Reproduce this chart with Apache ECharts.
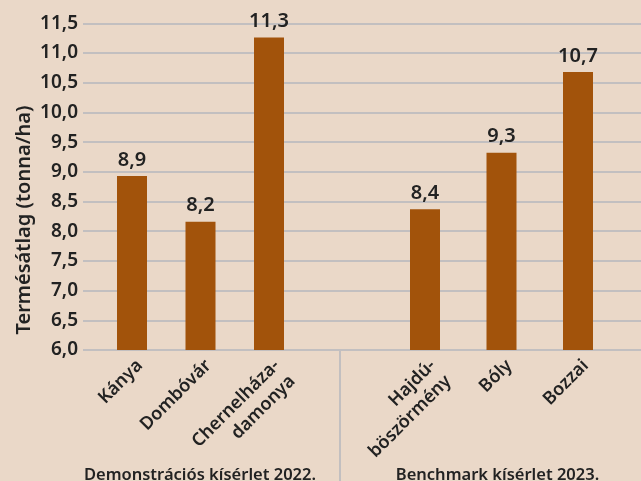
<!DOCTYPE html>
<html><head><meta charset="utf-8">
<script src="https://cdn.jsdelivr.net/npm/echarts@6/dist/echarts.min.js"></script>
<style>html,body{margin:0;padding:0;background:#ead8c8}#c{width:641px;height:481px}</style>
</head><body><div id="c"></div>
<script>
const groupNames = ['Demonstrációs kísérlet 2022.', 'Benchmark kísérlet 2023.'];
const demoSites = ['Kánya', 'Dombóvár', 'Chernelháza-\ndamonya'];
const demoYield = [8.93, 8.16, 11.26];
const benchSites = ['Hajdú-\nböszörmény', 'Bóly', 'Bozzai'];
const benchYield = [8.37, 9.32, 10.68];
const yName = 'Termésátlag (tonna/ha)';
const yMin = 6.0, yMax = 11.5, yStep = 0.5;

const FONT = '"Noto Sans", "Open Sans", sans-serif';
const W = 600;
const TXT = '#222222';
const GRIDC = '#c2bfc0';
const BAR = '#a2530b';
const fmt = v => v.toFixed(1).replace('.', ',');

const chart = echarts.init(document.getElementById('c'), null, {renderer: 'canvas'});
const gTop = 23.3, gBottom = 131;
const hiddenY = i => ({type: 'value', gridIndex: i, min: yMin, max: yMax, interval: yStep, show: false, splitLine: {show: false}});
const siteAxis = (i, data) => ({
  type: 'category', gridIndex: i, data: data,
  axisLine: {show: false}, axisTick: {show: false},
  axisLabel: {interval: 0, rotate: 45, margin: 5, align: 'right', verticalAlign: 'top', fontSize: 18, fontWeight: W, color: TXT, fontFamily: FONT, lineHeight: 22}
});
const barSeries = (i, data) => ({
  type: 'bar', xAxisIndex: i, yAxisIndex: i, data: data, barWidth: 30,
  itemStyle: {color: BAR},
  label: {show: true, position: 'top', distance: 6, formatter: p => fmt(p.value), fontSize: 20, fontWeight: W, color: TXT, fontFamily: FONT}
});
chart.setOption({
  backgroundColor: '#ead8c8',
  animation: false,
  grid: [
    {left: 83, right: 0, top: gTop, bottom: gBottom},
    {left: 97.75, width: 205.5, top: gTop, bottom: gBottom},
    {left: 386.75, width: 229.5, top: gTop, bottom: gBottom}
  ],
  xAxis: [
    {type: 'category', gridIndex: 0, data: [''], show: false},
    siteAxis(1, demoSites),
    siteAxis(2, benchSites)
  ],
  yAxis: [
    {type: 'value', gridIndex: 0, min: yMin, max: yMax, interval: yStep,
     axisLine: {show: false}, axisTick: {show: false},
     axisLabel: {formatter: fmt, margin: 5, fontSize: 19, fontWeight: W, color: TXT, fontFamily: FONT},
     splitLine: {show: true, lineStyle: {color: GRIDC, width: 2}}},
    hiddenY(1), hiddenY(2)
  ],
  series: [barSeries(1, demoYield), barSeries(2, benchYield)],
  graphic: [
    {type: 'line', shape: {x1: 340, y1: 350, x2: 340, y2: 481}, style: {stroke: GRIDC, lineWidth: 2}},
    {type: 'text', x: 24, y: 220, rotation: Math.PI / 2,
     style: {text: yName, align: 'center', verticalAlign: 'middle', fontSize: 20, fontWeight: W, fill: TXT, fontFamily: FONT}},
    {type: 'text', x: 200, y: 475.5, style: {text: groupNames[0], align: 'center', verticalAlign: 'middle', fontSize: 16.5, fontWeight: W, fill: TXT, fontFamily: FONT}},
    {type: 'text', x: 497.5, y: 475.5, style: {text: groupNames[1], align: 'center', verticalAlign: 'middle', fontSize: 16.5, fontWeight: W, fill: TXT, fontFamily: FONT}}
  ]
});
</script></body></html>
